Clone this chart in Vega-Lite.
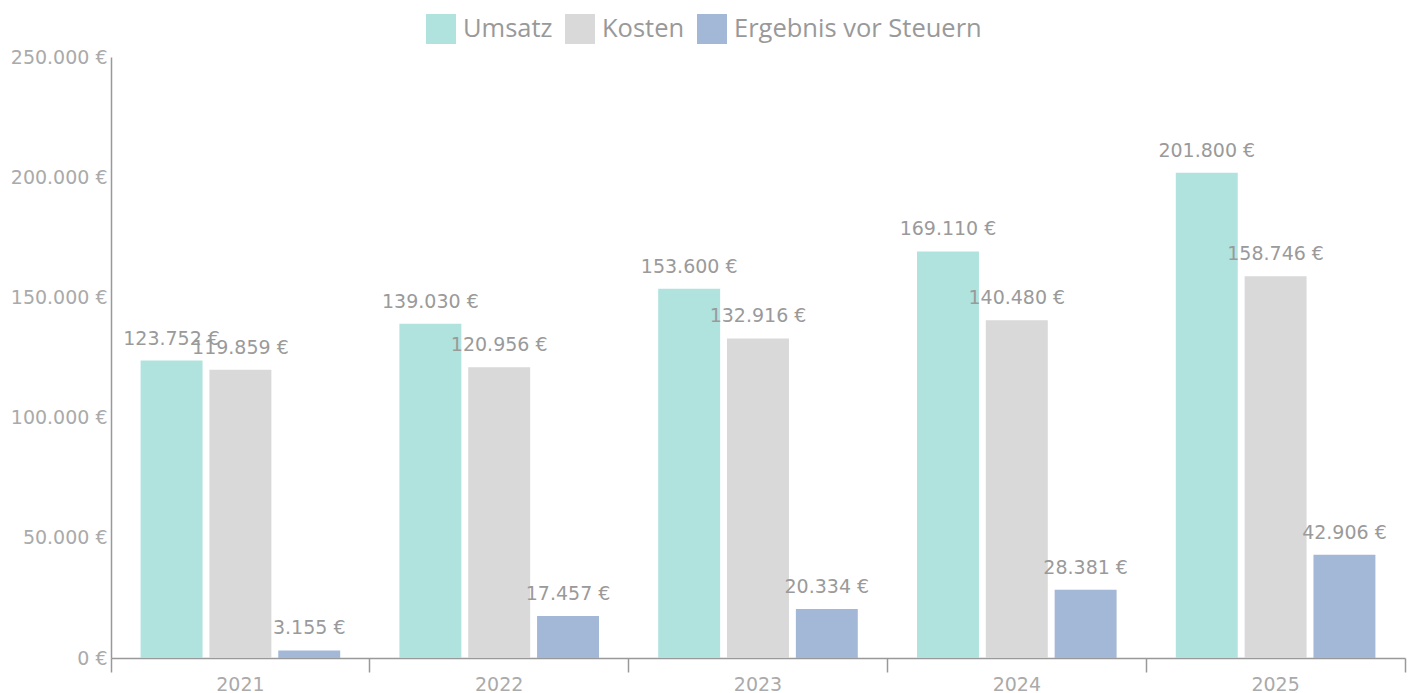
{
  "$schema": "https://vega.github.io/schema/vega-lite/v6.json",
  "width": 1294,
  "height": 601,
  "autosize": {"type": "none"},
  "padding": {"left": 111, "top": 57, "right": 8, "bottom": 35},
  "background": "white",
  "config": {
    "view": {"stroke": null},
    "locale": {"number": {"decimal": ",", "thousands": ".", "grouping": [3], "currency": ["", " €"]}},
    "font": "DejaVu Sans"
  },
  "data": {
    "values": [
      {"year": "2021", "series": "Umsatz", "value": 123752},
      {"year": "2021", "series": "Kosten", "value": 119859},
      {"year": "2021", "series": "Ergebnis vor Steuern", "value": 3155},
      {"year": "2022", "series": "Umsatz", "value": 139030},
      {"year": "2022", "series": "Kosten", "value": 120956},
      {"year": "2022", "series": "Ergebnis vor Steuern", "value": 17457},
      {"year": "2023", "series": "Umsatz", "value": 153600},
      {"year": "2023", "series": "Kosten", "value": 132916},
      {"year": "2023", "series": "Ergebnis vor Steuern", "value": 20334},
      {"year": "2024", "series": "Umsatz", "value": 169110},
      {"year": "2024", "series": "Kosten", "value": 140480},
      {"year": "2024", "series": "Ergebnis vor Steuern", "value": 28381},
      {"year": "2025", "series": "Umsatz", "value": 201800},
      {"year": "2025", "series": "Kosten", "value": 158746},
      {"year": "2025", "series": "Ergebnis vor Steuern", "value": 42906}
    ]
  },
  "encoding": {
    "x": {
      "field": "year", "type": "nominal",
      "scale": {"paddingInner": 0, "paddingOuter": 0},
      "axis": {
        "title": null, "labelAngle": 0, "bandPosition": 1, "tickExtra": true,
        "tickSize": 14, "tickColor": "#999", "tickWidth": 1.5,
        "domainColor": "#999", "domainWidth": 1.5,
        "labelColor": "#aaa", "labelFont": "DejaVu Sans", "labelFontSize": 19, "labelPadding": 3
      }
    },
    "xOffset": {
      "field": "series", "type": "nominal",
      "sort": ["Umsatz", "Kosten", "Ergebnis vor Steuern"],
      "scale": {"domain": ["Umsatz", "Kosten", "Ergebnis vor Steuern"], "paddingInner": 0.1, "paddingOuter": 0.43}
    },
    "y": {
      "field": "value", "type": "quantitative",
      "scale": {"domain": [0, 250000], "nice": false},
      "axis": {
        "title": null, "grid": false, "ticks": false, "values": [0, 50000, 100000, 150000, 200000, 250000],
        "format": "$,.0f", "domainColor": "#999", "domainWidth": 1.5,
        "labelColor": "#aaa", "labelFont": "DejaVu Sans", "labelFontSize": 19, "labelPadding": 4
      }
    }
  },
  "layer": [
    {
      "mark": {"type": "bar"},
      "encoding": {
        "color": {
          "field": "series", "type": "nominal",
          "scale": {"domain": ["Umsatz", "Kosten", "Ergebnis vor Steuern"], "range": ["#b0e3de", "#d9d9d9", "#a3b8d6"]},
          "legend": {
            "title": null, "orient": "none", "legendX": 315, "legendY": -43, "direction": "horizontal",
            "symbolType": "square", "symbolSize": 900, "symbolStrokeWidth": 0,
            "labelFont": "Open Sans", "labelFontSize": 25.5, "labelColor": "#999", "labelLimit": 0,
            "columnPadding": 12, "labelOffset": 7
          }
        }
      }
    },
    {
      "mark": {"type": "text", "baseline": "alphabetic", "dy": -16, "fontSize": 19, "font": "DejaVu Sans", "color": "#9a9a9a"},
      "encoding": {
        "text": {"field": "value", "type": "quantitative", "format": "$,.0f"}
      }
    }
  ]
}
